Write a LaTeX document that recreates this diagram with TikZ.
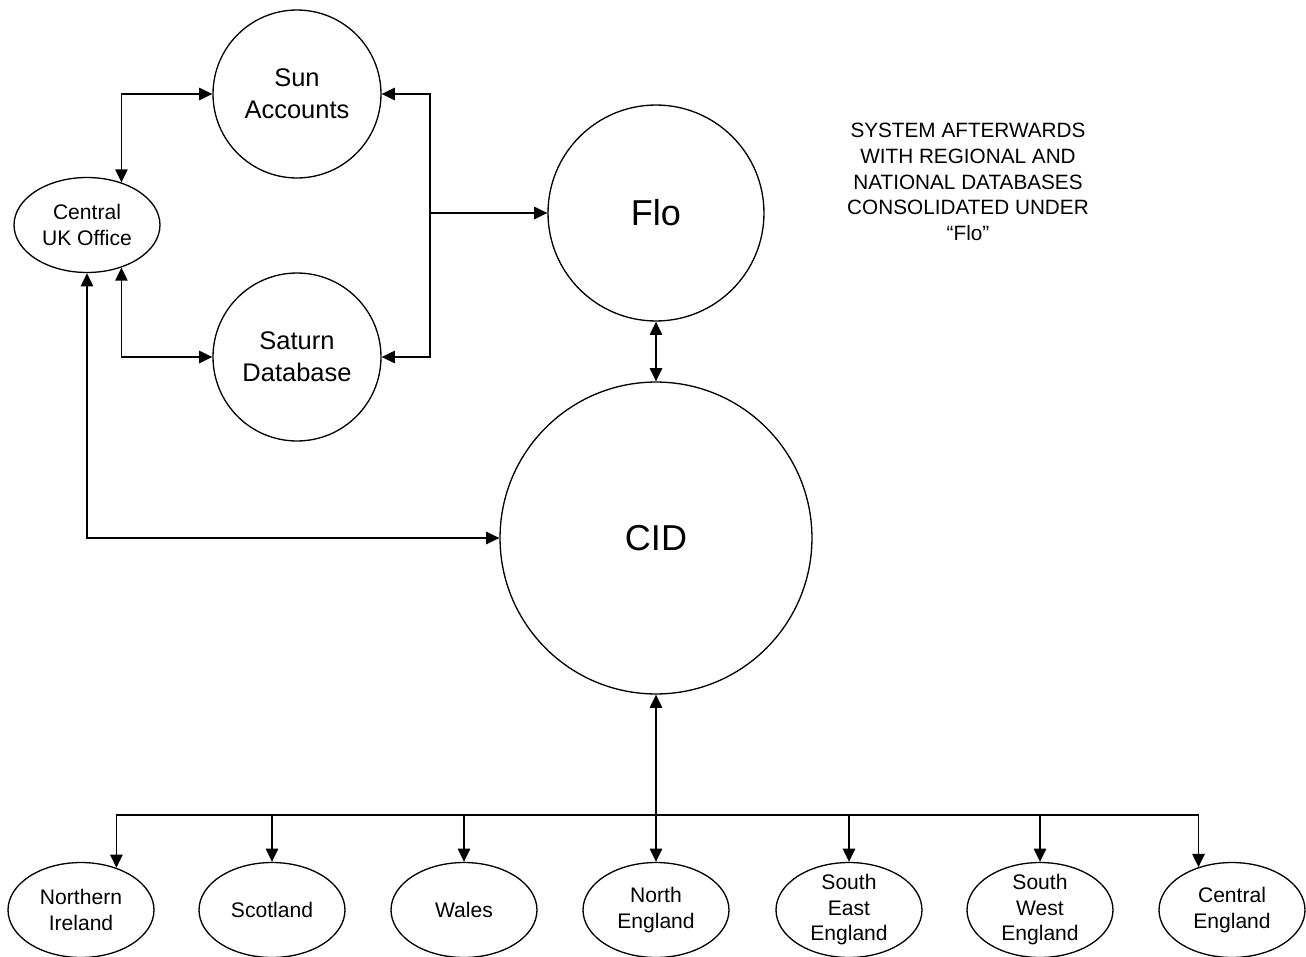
\documentclass[tikz,border=0pt]{standalone}
\usepackage{fontspec}
\setmainfont{Liberation Sans}
\usetikzlibrary{arrows.meta,shapes.geometric,calc}

\begin{document}
\begin{tikzpicture}[x=0.02cm, y=-0.02cm,
  sysnode/.style={draw, circle, line width=0.75pt, inner sep=0pt, align=center,
                  font=\fontsize{14.5}{18}\selectfont},
  bignode/.style={draw, circle, line width=0.75pt, inner sep=0pt,
                  font=\fontsize{20.5}{24}\selectfont},
  office/.style={draw, ellipse, line width=0.75pt, inner xsep=0pt, inner ysep=-4pt,
                 minimum width=2.92cm, minimum height=1.9cm, align=center,
                 font=\fontsize{12}{14.5}\selectfont},
  note/.style={align=center, font=\fontsize{11.8}{14.7}\selectfont},
  link/.style={line width=1pt},
  arr/.style={link, -{Triangle[length=7.5pt,width=7pt]}},
  arrs/.style={link, {Triangle[length=7.5pt,width=7pt]}-{Triangle[length=7.5pt,width=7pt]}}
]
\useasboundingbox (0,0) rectangle (1306,957);

\node[sysnode, minimum size=3.36cm] (sun) at (297,94) {Sun\\Accounts};
\node[sysnode, minimum size=3.36cm] (saturn) at (297,357) {Saturn\\Database};
\node[office] (cuk) at (87,225) {Central\\UK Office};
\node[bignode, minimum size=4.32cm] (flo) at (656,213) {Flo};
\node[bignode, minimum size=6.24cm] (cid) at (656,538) {CID};
\node[note] (caption) at (968,182)
  {SYSTEM AFTERWARDS\\WITH REGIONAL AND\\NATIONAL DATABASES\\CONSOLIDATED UNDER\\“Flo”};

\node[office] (ni) at (81,910) {Northern\\Ireland};
\node[office] (scot) at (272,910) {Scotland};
\node[office] (wales) at (464,910) {Wales};
\node[office] (neng) at (656,910) {North\\England};
\node[office] (seng) at (849,910) {South\\East\\England};
\node[office] (sweng) at (1040,910) {South\\West\\England};
\node[office] (ceng) at (1232,910) {Central\\England};

\coordinate (join) at (430,213);
\coordinate (bus) at (656,815);

\draw[arrs] (sun.west) -| (cuk.51);
\draw[arrs] (saturn.west) -| (cuk.-51);
\draw[arrs] (sun.east) -| (join) |- (saturn.east);
\draw[arr] (join) -- (flo.west);
\draw[arrs] (flo.south) -- (cid.north);
\draw[arrs] (cuk.south) |- (cid.west);
\draw[arrs] (cid.south) -- (neng.north);
\draw[arr] (bus) -| (ni.50);
\draw[arr] (bus) -| (ceng.128);
\foreach \r in {scot,wales,seng,sweng}
  \draw[arr] (bus -| \r.north) -- (\r.north);
\end{tikzpicture}
\end{document}
